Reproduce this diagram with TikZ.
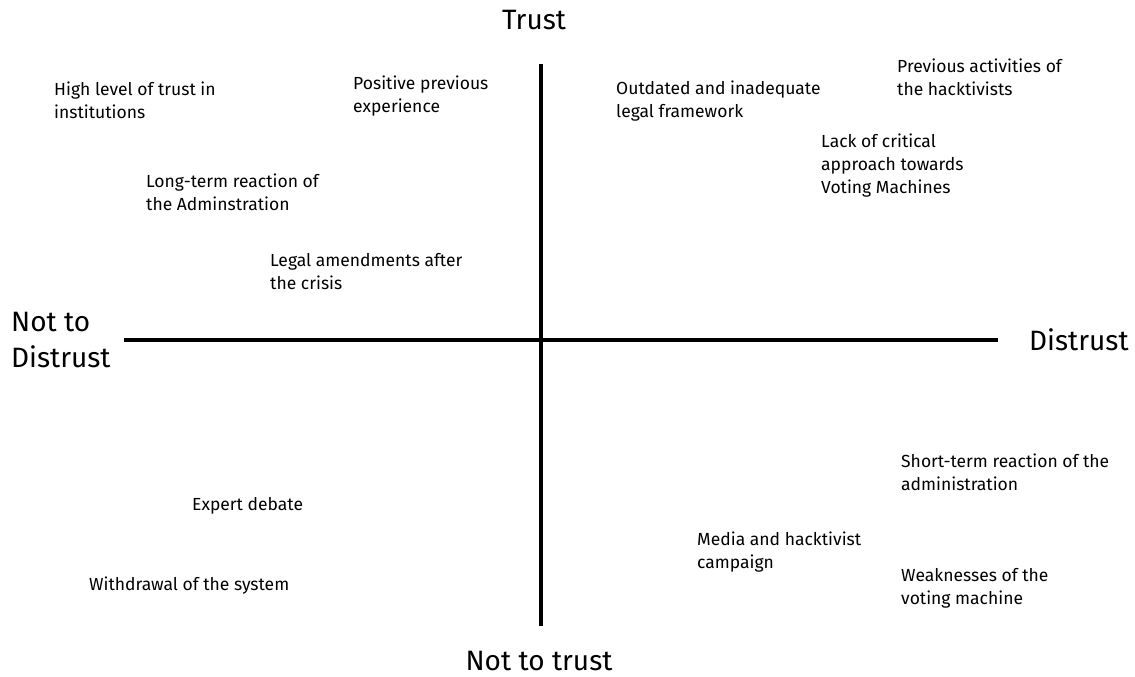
\documentclass[tikz,border=0pt]{standalone}
\usepackage{fontspec}
\setmainfont{Fira Sans}
\begin{document}
\begin{tikzpicture}[x=1pt,y=-1pt,
  lbl/.style={anchor=north west,inner sep=0pt,align=left,font=\fontsize{17.5}{23}\selectfont},
  axlbl/.style={inner sep=0pt,align=left,font=\fontsize{28}{36}\selectfont},
  axis/.style={line width=4pt}]
\useasboundingbox (0,0) rectangle (1135,677);
\coordinate (hl) at (124,340);
\coordinate (hr) at (998,340);
\coordinate (vt) at (541,64);
\coordinate (vb) at (541,626);
\draw[axis] (hl) -- (hr);
\draw[axis] (vt) -- (vb);
\node[axlbl] (trust) at (534,20) {Trust};
\node[axlbl] (nottrust) at (539,661) {Not to trust};
\node[axlbl,anchor=west] (distrust) at (1029,340) {Distrust};
\node[axlbl,anchor=west] (notdistrust) at (11,340) {Not to\\Distrust};
\node[lbl] (a) at (54,82) {High level of trust in\\institutions};
\node[lbl] (b) at (353,76) {Positive previous\\experience};
\node[lbl] (c) at (616,81) {Outdated and inadequate\\legal framework};
\node[lbl] (d) at (897,59) {Previous activities of\\the hacktivists};
\node[lbl] (e) at (821,134) {Lack of critical\\approach towards\\Voting Machines};
\node[lbl] (f) at (146,174) {Long-term reaction of\\the Adminstration};
\node[lbl] (g) at (270,253) {Legal amendments after\\the crisis};
\node[lbl] (h) at (901,454) {Short-term reaction of the\\administration};
\node[lbl] (i) at (192,497) {Expert debate};
\node[lbl] (j) at (697,532) {Media and hacktivist\\campaign};
\node[lbl] (k) at (89,577) {Withdrawal of the system};
\node[lbl] (l) at (901,568) {Weaknesses of the\\voting machine};
\end{tikzpicture}
\end{document}
